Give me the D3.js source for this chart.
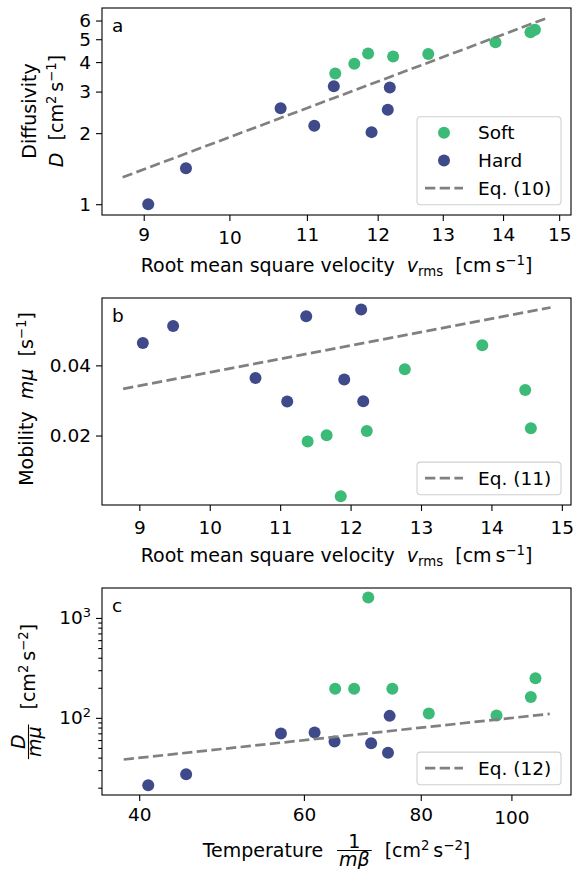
<!DOCTYPE html>
<html>
<head>
<meta charset="utf-8">
<script src="https://cdn.jsdelivr.net/npm/d3@7"></script>
<style>
  body { margin: 0; background: #fff; }
  svg text { font-family: "DejaVu Sans", sans-serif; white-space: pre; fill: #000; }
</style>
</head>
<body>
<div id="app"></div>
<script>
// ---- data ----
// soft particles
const softVrms  = [11.39, 11.66, 11.86, 12.23, 12.77, 13.87, 14.48, 14.56];
const softD     = [3.58, 3.94, 4.35, 4.22, 4.33, 4.85, 5.35, 5.49];
const softMob   = [0.0183, 0.0201, 0.0027, 0.0213, 0.0389, 0.0457, 0.0330, 0.0221];
const softTemp  = [64.8, 67.9, 70.3, 74.6, 81.6, 96.4, 104.9, 106.1];
const softRatio = [196, 196, 1600, 196, 110.5, 105.5, 162, 249];
// hard particles
const hardVrms  = [9.05, 9.48, 10.65, 11.10, 11.37, 11.91, 12.15, 12.18];
const hardD     = [1.0, 1.42, 2.55, 2.15, 3.16, 2.02, 2.51, 3.12];
const hardMob   = [0.0464, 0.0512, 0.0364, 0.0297, 0.0540, 0.0360, 0.0559, 0.0298];
const hardTemp  = [40.9, 44.9, 56.7, 61.6, 64.7, 70.8, 73.8, 74.1];
const hardRatio = [21.2, 27.3, 69.7, 71.4, 58.0, 55.8, 44.7, 104.7];
// model curves (end points, straight in the plotted scales)
const eq10 = [[8.77, 1.30], [14.81, 6.19]];
const eq11 = [[8.77, 0.0333], [14.84, 0.0565]];
const eq12 = [[38.5, 38.3], [109.9, 109.6]];
// ticks
const vTicks = [9, 10, 11, 12, 13, 14, 15];
const dTicks = [1, 2, 3, 4, 5, 6];
const mobTicks = [0.02, 0.04];
const tempTicks = [40, 60, 80, 100];
const ratioTicks = [100, 1000];
const ratioMinor = [20, 30, 40, 50, 60, 70, 80, 90, 200, 300, 400, 500, 600, 700, 800, 900];
const legendLabels = ["Soft", "Hard", "Eq. (10)", "Eq. (11)", "Eq. (12)"];

const container = document.querySelector('#app');

// layout
const width = 583;
const height = 869;
const marginLeft = 102;
const marginRight = 12;
const panelH = 207;
const tops = [8, 298, 588];
const FS = 18.5;   // ticks, legend
const LFS = 19;    // axis titles
const softColor = "#3cba78";
const hardColor = "#3e4a89";
const lineColor = "#808080";

const svg = d3.create("svg")
    .attr("width", width)
    .attr("height", height)
    .attr("font-size", FS);
container.append(svg.node());

const xr = [marginLeft, width - marginRight];
const yr = i => [tops[i] + panelH, tops[i]];

// scales
const xA = d3.scaleLog().domain([8.55, 15.22]).range(xr);
const yA = d3.scaleLog().domain([0.90, 6.78]).range(yr(0));
const xB = d3.scaleLinear().domain([8.47, 15.13]).range(xr);
const yB = d3.scaleLinear().domain([0.0002, 0.0592]).range(yr(1));
const xC = d3.scaleLog().domain([36.5, 115.8]).range(xr);
const yC = d3.scaleLog().domain([16.9, 1995]).range(yr(2));

// text with sub/superscripts and italics
function rich(t, segs, fs = FS) {
  let shift = 0;
  t.attr("font-size", fs);
  segs.forEach(([s, kind]) => {
    const sp = t.append("tspan").text(s);
    let target = 0;
    if (kind === "sup") { target = -7; sp.attr("font-size", fs * 0.7); }
    else if (kind === "sub") { target = 4; sp.attr("font-size", fs * 0.7); }
    else if (kind === "it") sp.attr("font-style", "italic");
    if (target !== shift) { sp.attr("dy", target - shift); shift = target; }
  });
  return t;
}

function xAxis(x, i, ticks, majors) {
  const ax = svg.append("g")
      .attr("transform", `translate(0,${tops[i] + panelH})`)
      .call(d3.axisBottom(x).tickValues(ticks).tickSize(6).tickPadding(6.5).tickFormat(d => String(d)));
  ax.attr("font-size", FS).attr("font-family", null);
  ax.select(".domain").remove();
  ax.selectAll(".tick line").attr("stroke", "#000").attr("stroke-width", 1.1);
  ax.selectAll(".tick text").attr("dy", d => majors.includes(d) ? "0.89em" : "0.71em");
}

function yAxis(y, ticks, fmt, size) {
  const ax = svg.append("g")
      .attr("transform", `translate(${marginLeft},0)`)
      .call(d3.axisLeft(y).tickValues(ticks).tickSize(size).tickPadding(5).tickFormat(fmt));
  ax.attr("font-size", FS).attr("font-family", null);
  ax.select(".domain").remove();
  ax.selectAll(".tick line").attr("stroke", "#000").attr("stroke-width", 1.1);
  return ax;
}

function dots(x, y, xs, ys, color) {
  svg.append("g").selectAll("circle")
    .data(d3.zip(xs, ys))
    .join("circle")
      .attr("cx", d => x(d[0]))
      .attr("cy", d => y(d[1]))
      .attr("r", 6)
      .attr("fill", color);
}

function dashed(x, y, pts) {
  const line = d3.line().x(d => x(d[0])).y(d => y(d[1]));
  svg.append("path")
    .datum(pts)
    .attr("fill", "none")
    .attr("stroke", lineColor)
    .attr("stroke-width", 2.7)
    .attr("stroke-dasharray", "10.3,4.4")
    .attr("d", line);
}

function frame(i, letter) {
  svg.append("rect")
    .attr("x", xr[0]).attr("y", tops[i])
    .attr("width", xr[1] - xr[0]).attr("height", panelH)
    .attr("fill", "none").attr("stroke", "#000").attr("stroke-width", 1.1);
  svg.append("text").attr("x", 112).attr("y", tops[i] + 24).text(letter);
}

function legend(i, entries) {
  const h = 32.6 + 27.7 * (entries.length - 1);
  const top = tops[i] + panelH - 10.3 - h;
  const lg = svg.append("g");
  lg.append("rect")
    .attr("x", 417).attr("y", top).attr("width", 144).attr("height", h).attr("rx", 3.5)
    .attr("fill", "#fff").attr("fill-opacity", 0.8)
    .attr("stroke", "#d0d0d0").attr("stroke-width", 1.1);
  entries.forEach((e, k) => {
    const cy = top + 16 + 27.7 * k;
    if (e.color) {
      lg.append("circle").attr("cx", 444).attr("cy", cy).attr("r", 6).attr("fill", e.color);
    } else {
      lg.append("line").attr("x1", 425).attr("x2", 463).attr("y1", cy).attr("y2", cy)
        .attr("stroke", lineColor).attr("stroke-width", 2.7).attr("stroke-dasharray", "10.3,4.4");
    }
    lg.append("text").attr("x", 478).attr("y", cy).attr("dy", "0.36em").text(e.label);
  });
}

function velocityLabel(i) {
  const t = svg.append("text")
      .attr("x", (xr[0] + xr[1]) / 2)
      .attr("y", tops[i] + panelH + 57)
      .attr("text-anchor", "middle");
  rich(t, [["Root mean square velocity  "], ["v", "it"], ["rms", "sub"], ["  [cm\u2009s"], ["\u22121", "sup"], ["]"]], LFS);
}

// a fraction drawn at x in a baseline frame, returns its width
function fraction(g, x, num, den, numY, denY) {
  const n = rich(g.append("text").attr("y", numY).attr("text-anchor", "middle"), num, LFS);
  const dn = rich(g.append("text").attr("y", denY).attr("text-anchor", "middle"), den, LFS);
  const w = Math.max(n.node().getComputedTextLength(), dn.node().getComputedTextLength()) + 4;
  n.attr("x", x + w / 2);
  dn.attr("x", x + w / 2);
  g.append("line").attr("x1", x).attr("x2", x + w).attr("y1", -6.5).attr("y2", -6.5)
    .attr("stroke", "#000").attr("stroke-width", 1.1);
  return w;
}

// ---------- panel a ----------
dots(xA, yA, softVrms, softD, softColor);
dots(xA, yA, hardVrms, hardD, hardColor);
dashed(xA, yA, eq10);
xAxis(xA, 0, vTicks, [10]);
yAxis(yA, dTicks, d => String(d), 6);
frame(0, "a");
legend(0, [
  { color: softColor, label: legendLabels[0] },
  { color: hardColor, label: legendLabels[1] },
  { label: legendLabels[2] }
]);
velocityLabel(0);
svg.append("text").attr("transform", "translate(36,111) rotate(-90)")
  .attr("text-anchor", "middle").attr("font-size", LFS).text("Diffusivity");
rich(svg.append("text").attr("transform", "translate(63,111) rotate(-90)").attr("text-anchor", "middle"),
  [["D", "it"], ["  [cm"], ["2", "sup"], ["\u2009s"], ["\u22121", "sup"], ["]"]], LFS);

// ---------- panel b ----------
dots(xB, yB, hardVrms, hardMob, hardColor);
dots(xB, yB, softVrms, softMob, softColor);
dashed(xB, yB, eq11);
xAxis(xB, 1, vTicks, vTicks);
yAxis(yB, mobTicks, d3.format(".2f"), 6);
frame(1, "b");
legend(1, [{ label: legendLabels[3] }]);
velocityLabel(1);
rich(svg.append("text").attr("transform", "translate(33,399) rotate(-90)").attr("text-anchor", "middle"),
  [["Mobility  "], ["m\u03bc", "it"], ["  [s"], ["\u22121", "sup"], ["]"]], LFS);

// ---------- panel c ----------
dots(xC, yC, softTemp, softRatio, softColor);
dots(xC, yC, hardTemp, hardRatio, hardColor);
dashed(xC, yC, eq12);
xAxis(xC, 2, tempTicks, [100]);
yAxis(yC, ratioMinor, () => "", 3.7);
yAxis(yC, ratioTicks, () => "", 6)
  .selectAll(".tick text")
  .each(function(d) { rich(d3.select(this), [["10"], [String(Math.round(Math.log10(d))), "sup"]]); });
frame(2, "c");
legend(2, [{ label: legendLabels[4] }]);

// x label with fraction 1/(m beta)
{
  const gx = svg.append("g");
  let cx = 0;
  const t1 = gx.append("text").attr("x", 0).attr("font-size", LFS).text("Temperature");
  cx += t1.node().getComputedTextLength() + 14;
  cx += fraction(gx, cx, [["1"]], [["m\u03b2", "it"]], -9.5, 9) + 13;
  const t3 = rich(gx.append("text").attr("x", cx), [["[cm"], ["2", "sup"], ["\u2009s"], ["\u22122", "sup"], ["]"]], LFS);
  cx += t3.node().getComputedTextLength();
  gx.attr("transform", `translate(${(xr[0] + xr[1]) / 2 - cx / 2},${tops[2] + panelH + 62})`);
}
// y label with fraction D/(m mu)
{
  const outer = svg.append("g").attr("transform", `translate(35,${tops[2] + panelH / 2}) rotate(-90)`);
  const gy = outer.append("g");
  let cy = 0;
  cy += fraction(gy, 0, [["D", "it"]], [["m\u03bc", "it"]], -10.5, 6) + 15;
  const u = rich(gy.append("text").attr("x", cy), [["[cm"], ["2", "sup"], ["\u2009s"], ["\u22122", "sup"], ["]"]], LFS);
  cy += u.node().getComputedTextLength();
  gy.attr("transform", `translate(${-cy / 2},0)`);
}
</script>
</body>
</html>
